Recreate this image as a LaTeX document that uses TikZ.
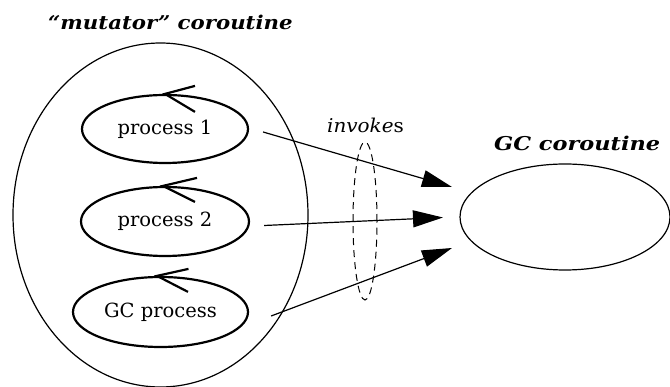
\documentclass[tikz,border=0pt]{standalone}
\usepackage{fontspec}
\setmainfont{DejaVu Serif}
\usetikzlibrary{arrows.meta,calc,shapes.geometric}
\begin{document}
\begin{tikzpicture}[x=1pt,y=-1pt,
  proc/.style={ellipse,draw,line width=2.2pt,inner sep=0pt,font=\fontsize{19.5}{22}\selectfont},
  outer/.style={ellipse,draw,line width=1.2pt,inner sep=0pt},
  marker/.style={line width=2.2pt},
  invoke/.style={line width=1.2pt,-{Triangle[length=30pt,width=17pt]}},
  title/.style={font=\fontsize{19}{22}\selectfont\bfseries\itshape,inner sep=0pt,anchor=base west}
]
\useasboundingbox (0,0) rectangle (670,387);
% outer ellipses
\node[outer,minimum width=295pt,minimum height=344pt] (mut) at (160.5,215) {};
\node[outer,minimum width=210pt,minimum height=106pt] (gc) at (565,217) {};
% dashed ellipse
\node[ellipse,draw,dash pattern=on 7pt off 5pt,line width=1pt,inner sep=0pt,minimum width=24pt,minimum height=158pt] (inv) at (365,221) {};
% processes
\node[proc,minimum width=166pt,minimum height=68pt] (p1) at (165,129) {process 1};
\node[proc,minimum width=168pt,minimum height=69pt] (p2) at (165,221.5) {process 2};
\node[proc,minimum width=175pt,minimum height=70pt] (p3) at (160.5,312) {GC process};
% markers
\draw[marker] ($(p1.north)+(30,-8)$) -- (p1.north) -- ++(30,18);
\draw[marker] ($(p2.north)+(32,-8)$) -- ([xshift=-2pt]p2.north) -- ++(32,16);
\draw[marker] ($(p3.north)+(28,-7)$) -- ([xshift=-3.5pt]p3.north) -- ++(31,16);
% titles
\node[title] (t1) at (48,30) {\scalebox{1.12}[1]{“mutator” coroutine}};
\node[title] (t2) at (494,151) {\scalebox{1.18}[1]{GC coroutine}};
\node[font=\fontsize{19}{21}\selectfont,inner sep=0pt,anchor=base west] (lab) at (327,133) {\scalebox{1.05}[1]{\textit{invoke}s}};
% arrows
\coordinate (e1) at (452,187);
\coordinate (e2) at (443,217.5);
\coordinate (e3) at (452,248);
\draw[invoke] ([xshift=14pt,yshift=-3pt]p1.east) -- (e1);
\draw[invoke] ([xshift=14pt,yshift=-4pt]p2.east) -- (e2);
\draw[invoke] ([xshift=22pt,yshift=-4pt]p3.east) -- (e3);
\end{tikzpicture}
\end{document}
